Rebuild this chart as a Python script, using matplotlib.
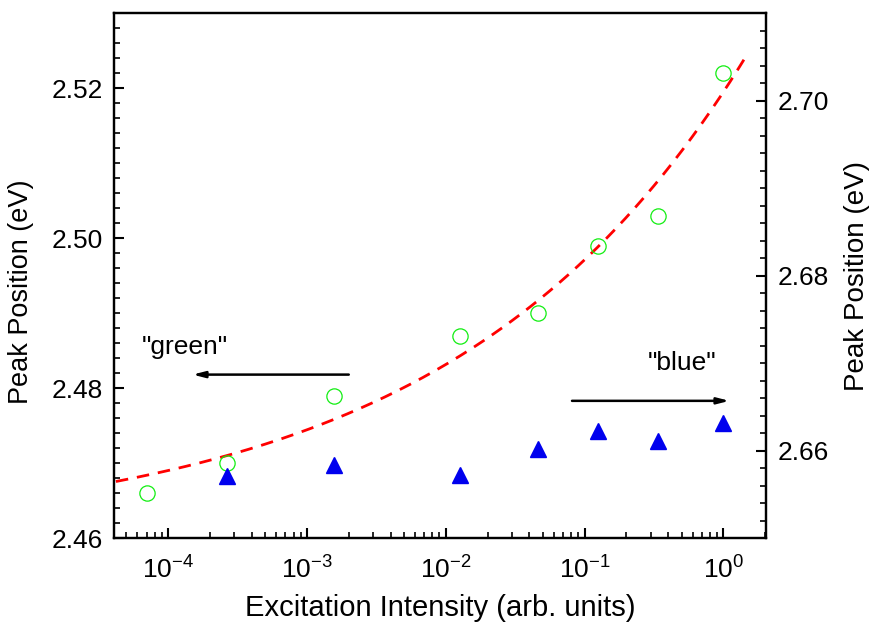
import numpy as np
import matplotlib
matplotlib.use("Agg")
import matplotlib.pyplot as plt
from matplotlib.ticker import LogLocator, MultipleLocator, NullFormatter

plt.rcParams['font.family'] = ['Liberation Sans', 'DejaVu Sans']
plt.rcParams['mathtext.fontset'] = 'custom'
plt.rcParams['mathtext.rm'] = 'Liberation Sans'
plt.rcParams['mathtext.it'] = 'Liberation Sans:italic'

# excitation intensities (arb. units)
intensity = [7.0e-5, 2.64e-4, 1.57e-3, 1.26e-2, 4.64e-2, 0.126, 0.336, 1.0]
# "green" band peak positions (eV), left axis
green_peak = [2.466, 2.470, 2.479, 2.487, 2.490, 2.499, 2.503, 2.522]
# "blue" band peak positions (eV), right axis (no point at lowest intensity)
blue_intensity = [2.64e-4, 1.57e-3, 1.26e-2, 4.64e-2, 0.126, 0.336, 1.0]
blue_peak = [2.6571, 2.6583, 2.6572, 2.6602, 2.6622, 2.6611, 2.6632]

# power-law fit of the green band: E = E0 + A * I**p
fit_E0 = 2.46
fit_A = 0.0595
fit_p = 0.205
fit_range = (4.2e-5, 1.45)

fig = plt.figure(figsize=(8.69, 6.3), dpi=100)
ax = fig.add_axes([0.1312, 0.146, 0.7503, 0.8329])
ax2 = ax.twinx()

fit_x = np.logspace(np.log10(fit_range[0]), np.log10(fit_range[1]), 200)
ax.plot(fit_x, fit_E0 + fit_A * fit_x ** fit_p, color='red', lw=2,
        ls=(0, (4.5, 3.2)), zorder=2)
ax.plot(intensity, green_peak, 'o', ms=11, mfc='none', mec='#11ee11',
        mew=0.9, zorder=3)
ax2.plot(blue_intensity, blue_peak, '^', ms=11, color='#0000ee', mec='#0000ee',
         zorder=3)

ax.set_xscale('log')
ax.set_xlim(4.07e-5, 2.03)
ax.set_ylim(2.46, 2.53)
ax2.set_ylim(2.65, 2.71)

ax.xaxis.set_major_locator(LogLocator(base=10, numticks=10))
ax.xaxis.set_minor_locator(LogLocator(base=10, subs=np.arange(2, 10), numticks=10))
ax.xaxis.set_minor_formatter(NullFormatter())
ax.set_yticks([2.46, 2.48, 2.50, 2.52])
ax.yaxis.set_minor_locator(MultipleLocator(0.002))
ax2.set_yticks([2.66, 2.68, 2.70])
ax2.yaxis.set_minor_locator(MultipleLocator(0.002))
ax.yaxis.set_major_formatter(plt.FuncFormatter(lambda v, p: f"{v:.2f}"))
ax2.yaxis.set_major_formatter(plt.FuncFormatter(lambda v, p: f"{v:.2f}"))

for a in (ax, ax2):
    a.tick_params(which='major', direction='in', length=7, width=1.5,
                  labelsize=19, pad=8)
    a.tick_params(which='minor', direction='in', length=4, width=1.2)
    for s in a.spines.values():
        s.set_linewidth(1.6)
ax.tick_params(axis='x', which='both', top=False, pad=13)
ax.tick_params(axis='y', which='both', right=False)

ax.set_xlabel('Excitation Intensity (arb. units)', fontsize=21, labelpad=8)
ax.set_ylabel('Peak Position (eV)', fontsize=19.5)
ax.yaxis.set_label_coords(-0.123, 0.47)
ax2.set_ylabel('Peak Position (eV)', fontsize=20, labelpad=11)

arrow = dict(arrowstyle='-|>,head_length=0.7,head_width=0.18', color='black',
             lw=1.8, shrinkA=0, shrinkB=0)
ax.annotate('', xy=(1.5e-4, 2.4818), xytext=(2.0e-3, 2.4818), arrowprops=arrow)
ax.annotate('', xy=(1.105, 2.4783), xytext=(0.0812, 2.4783), arrowprops=arrow)
ax.text(1.32e-4, 2.4855, '"green"', fontsize=19, ha='center', va='center')
ax.text(0.5, 2.4833, '"blue"', fontsize=19, ha='center', va='center')

fig.savefig('out.png', dpi=100)
